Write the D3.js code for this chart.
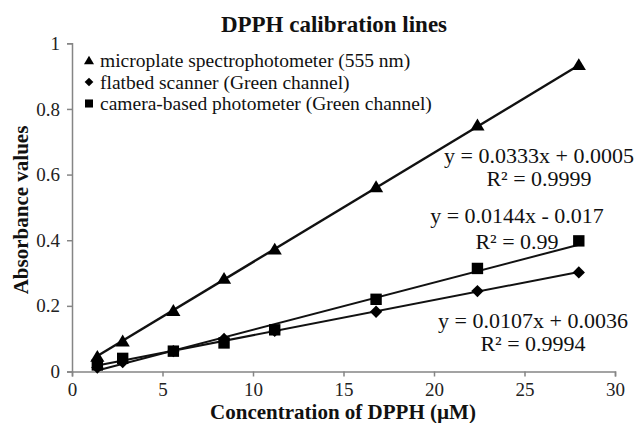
<!DOCTYPE html>
<html><head><meta charset="utf-8">
<script src="https://cdn.jsdelivr.net/npm/d3@7"></script>
<style>html,body{margin:0;padding:0;background:#fff;}svg{display:block;}</style>
</head><body>
<svg id="chart" width="635" height="423"></svg>
<script>
// ---- data ----
const concentrations = [1.4, 2.8, 5.6, 8.4, 11.2, 16.8, 22.4, 28];
const microplate = [0.045, 0.092, 0.185, 0.283, 0.372, 0.562, 0.750, 0.934];
const flatbed    = [0.012, 0.029, 0.062, 0.099, 0.124, 0.182, 0.245, 0.302];
const camera     = [0.020, 0.040, 0.062, 0.087, 0.127, 0.220, 0.314, 0.398];
const seriesNames = ["microplate spectrophotometer (555 nm)", "flatbed scanner (Green channel)", "camera-based photometer (Green channel)"];
const slopes = [0.0333, 0.0107, 0.0144];
const intercepts = [0.0005, 0.0036, -0.017];
const equationLabels = ["y = 0.0333x + 0.0005", "y = 0.0107x + 0.0036", "y = 0.0144x - 0.017"];
const r2Labels = ["R² = 0.9999", "R² = 0.9994", "R² = 0.99"];
const xTicks = [0, 5, 10, 15, 20, 25, 30];
const yTicks = [0, 0.2, 0.4, 0.6, 0.8, 1];
const titleText = "DPPH calibration lines";
const xTitle = "Concentration of DPPH (µM)";
const yTitle = "Absorbance values";

// ---- layout ----
const svg = d3.select("#chart");
const font = "'Liberation Serif', 'Times New Roman', serif";
const x = d3.scaleLinear().domain([0, 30]).range([72, 615]);
const y = d3.scaleLinear().domain([0, 1]).range([371.5, 43.3]);
const axisColor = "#858585";

svg.append("text").attr("x", 334).attr("y", 32).attr("text-anchor", "middle")
  .attr("font-family", font).attr("font-weight", "bold").attr("font-size", 23).attr("fill", "#111")
  .text(titleText);

// axes
const xAxis = svg.append("g").attr("transform", `translate(0,${y(0)})`)
  .call(d3.axisBottom(x).tickValues(xTicks).tickSize(5).tickFormat(d3.format("d")));
const yAxis = svg.append("g").attr("transform", `translate(${x(0)},0)`)
  .call(d3.axisLeft(y).tickValues(yTicks).tickSize(5).tickFormat(d => d === 0 || d === 1 ? String(d) : d.toFixed(1)));
[xAxis, yAxis].forEach(g => {
  g.attr("font-family", font);
  g.select(".domain").attr("stroke", axisColor).attr("stroke-width", 1.5);
  g.selectAll(".tick line").attr("stroke", axisColor).attr("stroke-width", 1.5);
  g.selectAll(".tick text").attr("font-family", font).attr("font-size", 19).attr("fill", "#222");
});
xAxis.selectAll(".tick text").attr("dy", null).attr("y", 24);
yAxis.selectAll(".tick text").attr("x", -12);

svg.append("text").attr("x", 343).attr("y", 419).attr("text-anchor", "middle")
  .attr("font-family", font).attr("font-weight", "bold").attr("font-size", 21).attr("fill", "#111")
  .text(xTitle);
svg.append("text").attr("transform", "translate(28,210) rotate(-90)").attr("text-anchor", "middle")
  .attr("font-family", font).attr("font-weight", "bold").attr("font-size", 21).attr("fill", "#111")
  .text(yTitle);

// symbols
const diamondType = { draw(ctx, size) { const r = Math.sqrt(size) / 2 * 1.3; ctx.moveTo(0, -r); ctx.lineTo(r, 0); ctx.lineTo(0, r); ctx.lineTo(-r, 0); ctx.closePath(); } };
const triangleType = { draw(ctx, size) { const w = Math.sqrt(size); ctx.moveTo(0, -w * 0.55); ctx.lineTo(w * 0.58, w * 0.42); ctx.lineTo(-w * 0.58, w * 0.42); ctx.closePath(); } };
const symbolTypes = [triangleType, diamondType, d3.symbolSquare];
const symbolSizes = [150, 90, 130];
const seriesValues = [microplate, flatbed, camera];

// trendlines
const xMin = d3.min(concentrations), xMax = d3.max(concentrations);
const line = d3.line().x(d => x(d[0])).y(d => y(d[1]));
seriesValues.forEach((vals, i) => {
  const pts = [xMin, xMax].map(c => [c, slopes[i] * c + intercepts[i]]);
  svg.append("path").attr("d", line(pts)).attr("fill", "none").attr("stroke", "#111")
    .attr("stroke-width", i === 0 ? 2.4 : 2);
});
// markers
seriesValues.forEach((vals, i) => {
  svg.append("g").selectAll("path").data(concentrations).join("path")
    .attr("transform", (c, j) => `translate(${x(c)},${y(vals[j])})`)
    .attr("d", d3.symbol().type(symbolTypes[i]).size(symbolSizes[i]))
    .attr("fill", "#000");
});

// legend
const legendRows = [60.5, 82, 103.5];
seriesNames.forEach((name, i) => {
  svg.append("path").attr("transform", `translate(89,${legendRows[i]})`)
    .attr("d", d3.symbol().type(symbolTypes[i]).size(symbolSizes[i] * 0.5)).attr("fill", "#000");
  svg.append("text").attr("x", 100).attr("y", legendRows[i] + 6.5)
    .attr("font-family", font).attr("font-size", 19.5).attr("fill", "#111").text(name);
});

// equation labels
const eqPos = [[539, 163], [533, 328], [517, 223]];
const r2Pos = [[539, 186], [533, 351], [517, 249]];
const eqG = svg.append("g").attr("font-family", font).attr("font-size", 22).attr("fill", "#111").attr("text-anchor", "middle");
equationLabels.forEach((t, i) => eqG.append("text").attr("x", eqPos[i][0]).attr("y", eqPos[i][1]).text(t));
r2Labels.forEach((t, i) => eqG.append("text").attr("x", r2Pos[i][0]).attr("y", r2Pos[i][1]).text(t));
</script>
</body></html>
